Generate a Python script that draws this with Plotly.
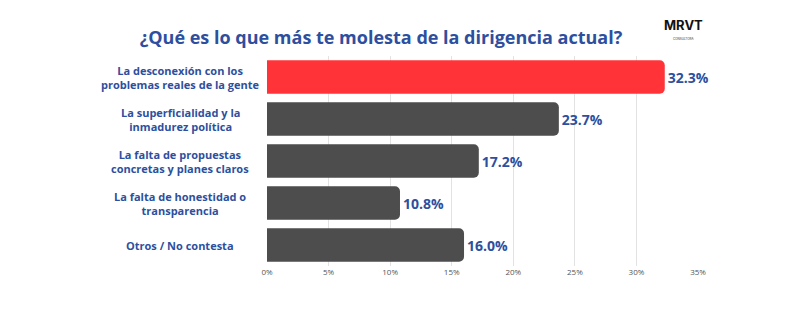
import plotly.graph_objects as go

categories = [
    "La desconexión con los<br>problemas reales de la gente",
    "La superficialidad y la<br>inmadurez política",
    "La falta de propuestas<br>concretas y planes claros",
    "La falta de honestidad o<br>transparencia",
    "Otros / No contesta",
]
values = [32.3, 23.7, 17.2, 10.8, 16.0]
colors = ["#ff3338", "#4d4d4d", "#4d4d4d", "#4d4d4d", "#4d4d4d"]
tick_vals = [0, 5, 10, 15, 20, 25, 30, 35]
tick_text = ["0%", "5%", "10%", "15%", "20%", "25%", "30%", "35%"]

BLUE = "#2d4f9e"
W, H = 800, 311
ML, MR, MT, MB = 267, 102, 56, 45
PW, PH = W - ML - MR, H - MT - MB


def px_to_paper_x(px):
    return (px - ML) / PW


def px_to_paper_y(py):
    return (H - MB - py) / PH


fig = go.Figure(go.Bar(
    x=values,
    y=categories,
    orientation="h",
    marker=dict(color=colors, cornerradius=5, line=dict(width=0)),
    text=[f"{v:.1f}%" for v in values],
    textposition="outside",
    cliponaxis=False,
    textfont=dict(family="Open Sans", size=14, color=BLUE, weight="bold"),
))

for c in categories:
    fig.add_annotation(
        x=px_to_paper_x(180), xref="paper", y=c, yref="y",
        text=c, showarrow=False, xanchor="center", align="center",
        font=dict(family="Open Sans", size=11, color=BLUE, weight="bold"),
    )

fig.update_layout(
    width=W, height=H,
    margin=dict(l=ML, r=MR, t=MT, b=MB),
    paper_bgcolor="white", plot_bgcolor="white",
    bargap=0.2,
    showlegend=False,
    title=dict(
        text="¿Qué es lo que más te molesta de la dirigencia actual?",
        x=381 / W, xanchor="center", y=1 - 38 / H, yanchor="middle",
        font=dict(family="Open Sans", size=18, color=BLUE, weight="bold"),
    ),
    xaxis=dict(
        range=[0, 35], tickvals=tick_vals, ticktext=tick_text,
        showgrid=True, gridcolor="#e2e2e2", gridwidth=1,
        zeroline=False, showline=False,
        tickfont=dict(family="Open Sans", size=8, color="#555555"),
    ),
    yaxis=dict(
        autorange="reversed", showticklabels=False, showgrid=False,
        zeroline=False,
    ),
)

fig.add_annotation(
    x=px_to_paper_x(683), xref="paper", y=px_to_paper_y(35), yref="paper",
    text="MRVT", showarrow=False, xanchor="center", yanchor="bottom",
    font=dict(family="Inter", size=13, color="#111111", weight="bold"),
)
fig.add_annotation(
    x=px_to_paper_x(683), xref="paper", y=px_to_paper_y(35), yref="paper",
    text="CONSULTORA", showarrow=False, xanchor="center", yanchor="top",
    font=dict(family="Inter", size=3, color="#333333"),
)

fig.write_html("out.html")
